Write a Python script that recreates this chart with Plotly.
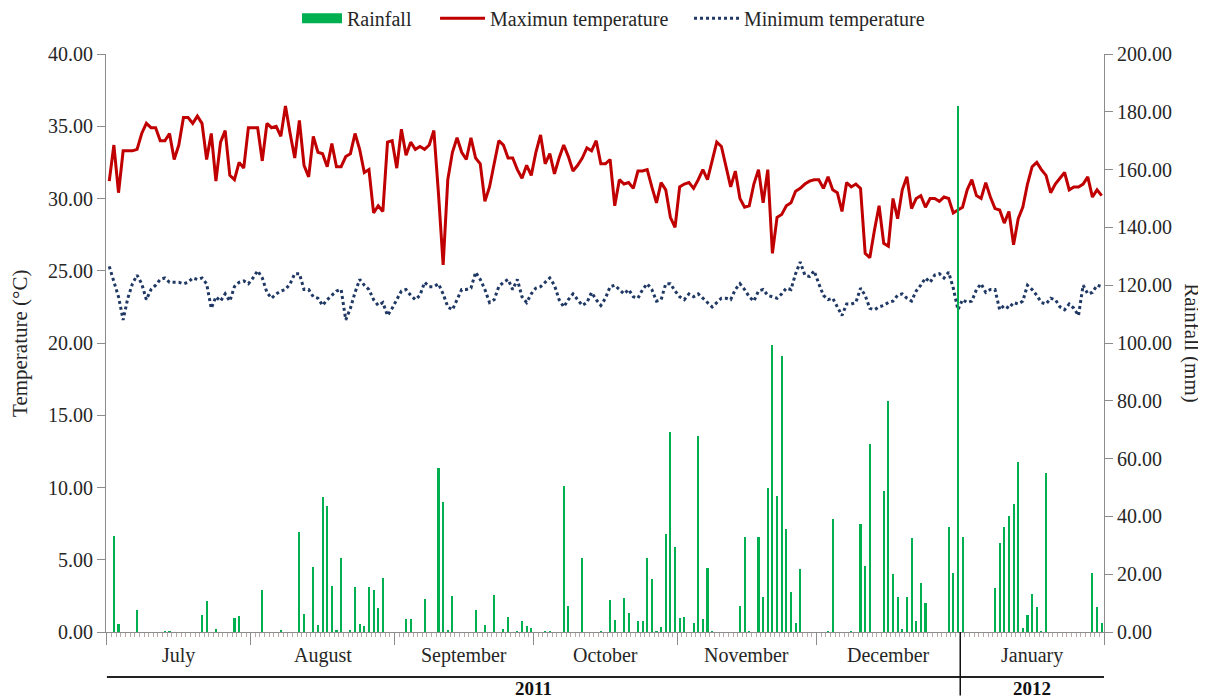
import plotly.graph_objects as go

# ---------------- data (daily, 1 July 2011 -> 31 January 2012) ----------------
month_names = ["July", "August", "September", "October", "November", "December", "January"]
month_days = [31, 31, 30, 31, 30, 31, 31]
year_labels = ["2011", "2012"]

max_temp = [
    31.2, 33.7, 30.4, 33.3, 33.3, 33.3, 33.4, 34.5, 35.2, 34.9,
    34.9, 34.0, 34.0, 34.5, 32.7, 33.7, 35.6, 35.6, 35.2, 35.7,
    35.2, 32.7, 34.5, 31.2, 33.9, 34.7, 31.6, 31.3, 32.5, 32.1,
    34.9, 34.9, 34.9, 32.6, 35.2, 34.9, 35.0, 34.3, 36.4, 34.5,
    32.8, 35.4, 32.3, 31.5, 34.3, 33.2, 33.1, 32.2, 33.8, 32.2,
    32.2, 32.9, 33.1, 34.5, 33.4, 31.8, 32.0, 29.0, 29.5, 29.1,
    33.9, 34.0, 32.1, 34.8,
    33.0, 33.9, 33.4, 33.6, 33.4, 33.7, 34.7, 30.3, 25.4, 31.3,
    33.2, 34.2, 33.2, 32.7, 34.2, 32.8, 32.4, 29.8, 30.8, 32.4,
    34.0, 33.7, 32.8, 32.8, 32.0, 31.4, 32.3, 31.6, 33.2, 34.4,
    32.4, 33.1, 31.7, 32.8, 33.7, 32.9, 31.9, 32.3, 32.8, 33.5,
    33.3, 34.0, 32.4, 32.4, 32.7, 29.5, 31.3, 31.0, 31.1, 30.7,
    31.9, 31.9, 32.0, 30.8, 29.7, 31.1, 30.6, 28.7, 28.0, 30.8,
    31.0, 31.1,
    30.7, 31.3, 32.0, 31.3, 32.7, 33.9, 33.6, 32.3, 30.8, 31.9,
    30.0, 29.4, 29.5, 31.0, 32.0, 29.7, 32.0, 26.2, 28.7, 28.9,
    29.5, 29.7, 30.5, 30.7, 31.0, 31.2, 31.3, 31.3, 30.7, 31.5,
    30.6, 30.4, 29.1, 31.1, 30.8, 31.0, 30.7, 26.2, 25.9, 27.8,
    29.5, 26.9, 26.7, 30.0, 28.6, 30.6, 31.5, 29.3, 30.0, 30.2,
    29.4, 30.0, 30.0, 29.8, 30.1, 30.0, 29.0, 29.2, 29.4, 30.6,
    31.3, 30.2,
    30.0, 31.1, 30.1, 29.3, 29.2, 28.3, 29.1, 26.8, 28.6, 29.4,
    31.0, 32.2, 32.5, 32.0, 31.6, 30.4, 31.0, 31.4, 31.8, 30.6,
    30.8, 30.8, 31.0, 31.5, 30.1, 30.6, 30.2,
]

min_temp = [
    25.3, 24.2, 23.2, 21.6, 23.1, 24.1, 24.7, 24.1, 23.0, 23.7,
    24.0, 24.4, 24.5, 24.2, 24.2, 24.2, 24.1, 24.2, 24.5, 24.4,
    24.5, 24.1, 22.4, 23.2, 22.9, 23.4, 22.9, 23.9, 24.2, 24.3,
    24.1, 24.5, 25.0, 24.5, 23.5, 23.1, 23.4, 23.6, 23.7, 24.1,
    24.8, 24.8, 23.7, 23.7, 23.2, 23.1, 22.6, 23.0, 23.3, 23.6,
    23.7, 21.6, 22.4, 23.5, 24.4, 24.0, 23.7, 23.0, 22.6, 22.8,
    21.9, 22.4, 23.0,
    23.6, 23.7, 23.3, 23.0, 23.3, 24.2, 23.9,
    23.9, 24.1, 23.4, 22.5, 22.3, 23.0, 23.7, 23.7, 23.8, 24.9,
    24.4, 23.7, 22.8, 23.0, 23.9, 24.2, 24.4, 23.7, 24.4, 23.2,
    22.8, 23.4, 23.8, 23.9, 24.2, 24.5, 24.0, 23.0, 22.5, 23.0,
    23.4, 23.0, 22.6, 22.8, 23.5, 23.0, 22.6, 23.1, 23.9, 24.0,
    23.7, 23.4, 23.7, 23.2, 23.1, 23.7, 24.1, 23.7, 22.9, 23.0,
    24.1, 24.1, 23.6, 23.2, 23.0, 23.4,
    23.2, 23.4, 23.1, 22.8,
    22.5, 22.8, 23.1, 23.1, 23.0, 23.7, 24.1, 23.7, 23.2, 22.9,
    23.6, 23.7, 23.3, 23.2, 23.1, 23.4, 23.8, 23.7, 24.8, 25.6,
    24.7, 24.6, 25.0, 24.1, 23.3, 23.0, 23.1, 22.5, 21.9, 22.7,
    22.7, 22.8, 23.8, 23.3, 22.4, 22.3, 22.5, 22.6, 22.8, 22.9,
    23.3, 23.4, 23.1, 22.9, 23.6, 24.0, 24.5, 24.2, 24.7, 24.8,
    24.5, 24.9, 23.8, 22.3, 23.0, 22.8, 22.9, 23.7,
    24.1, 23.5, 23.7, 23.7, 22.3, 22.6, 22.4, 22.8, 22.7, 22.9,
    24.0, 23.7, 23.3, 22.8, 22.7, 23.1, 23.0, 22.5, 22.3, 22.7,
    22.4, 21.9, 24.0, 23.4, 23.5, 24.0, 23.9,
]

# rainy days: day number counted from 1 July 2011 (0 = 1 July) and amount (mm)
rain_day = [1, 2, 6, 12, 13, 20, 21, 23, 27, 28, 33, 37, 41, 42, 44, 45, 46, 47, 48, 49,
            50, 52, 53, 54, 55, 56, 57, 58, 59, 64, 65, 68, 71, 72, 73, 74, 79, 81, 83, 85,
            86, 88, 89, 90, 91, 94, 95, 98, 99, 102, 106, 108, 109, 111, 112, 114, 115, 116,
            117, 118, 119, 120, 121, 122, 123, 124, 126, 127, 128, 129, 130, 136, 137, 138,
            140, 141, 142, 143, 144, 145, 146, 147, 148, 149, 155, 156, 160, 162, 163, 164,
            167, 168, 169, 170, 171, 172, 173, 174, 175, 176, 181, 182, 183, 184, 191, 192,
            193, 194, 195, 196, 197, 198, 199, 200, 201, 202, 212, 213, 214]
rain_mm = [33.2, 2.8, 7.6, 0.3, 0.3, 5.9, 10.8, 0.9, 4.7, 5.7, 14.5, 0.5, 34.5, 6.2, 22.6,
           2.4, 46.8, 43.7, 15.9, 0.5, 25.7, 0.7, 15.5, 2.8, 2.1, 15.5, 14.5, 8.2, 18.6, 4.4,
           4.6, 11.3, 56.6, 45.1, 0.7, 12.6, 7.6, 2.4, 12.8, 0.9, 5.3, 0.3, 3.8, 2.2, 1.3, 0.3,
           0.3, 50.5, 9.0, 25.5, 0.3, 11.1, 4.2, 11.9, 6.7, 3.9, 3.9, 25.5, 18.2, 0.3, 1.8,
           33.9, 69.3, 29.3, 4.7, 5.3, 3.0, 67.8, 4.4, 22.0, 0.3, 9.0, 32.8, 0.3, 32.8, 12.2,
           49.7, 99.3, 47.1, 95.5, 35.6, 13.9, 3.0, 21.9, 0.3, 39.2, 0.3, 37.4, 22.8, 64.9,
           48.8, 80.0, 20.1, 12.0, 0.9, 12.0, 32.4, 3.8, 17.1, 9.9, 36.4, 20.3, 182.0, 32.8,
           15.1, 30.9, 36.4, 40.1, 44.3, 58.9, 1.3, 5.9, 13.1, 8.5, 0.3, 55.1, 20.5, 8.5, 3.0]

# ---------------- derived ----------------
n_days = sum(month_days)
day_x = [d + 0.5 for d in range(n_days)]
rain_x = [d + 0.5 for d in rain_day]

bounds = [0]
for m in month_days:
    bounds.append(bounds[-1] + m)
centers = [(bounds[i] + bounds[i + 1]) / 2 for i in range(len(month_days))]
year_split = bounds[6]

FONT = "Liberation Serif"
GREEN = "#00B050"
RED = "#C00000"
NAVY = "#1F3864"
AXIS = "#8C8C8C"
TXT = "#262626"
FS = 20

fig = go.Figure()

fig.add_trace(go.Scatter(
    x=day_x, y=max_temp, mode="lines", name="Maximun temperature",
    line=dict(color=RED, width=3), yaxis="y", showlegend=False))
fig.add_trace(go.Scatter(
    x=day_x, y=min_temp, mode="lines", name="Minimum temperature",
    line=dict(color=NAVY, width=3, dash="dot"), yaxis="y", showlegend=False))
fig.add_trace(go.Bar(
    x=rain_x, y=rain_mm, name="Rainfall", width=0.45,
    marker=dict(color=GREEN, line=dict(width=0)), yaxis="y2", showlegend=False))

# legend entries (one legend box each, so they can sit where the reference has them)
fig.add_trace(go.Scatter(x=[None], y=[None], mode="lines", name="Rainfall",
                         line=dict(color=GREEN, width=10), legend="legend"))
fig.add_trace(go.Scatter(x=[None], y=[None], mode="lines", name="Maximun temperature",
                         line=dict(color=RED, width=3), legend="legend2"))
fig.add_trace(go.Scatter(x=[None], y=[None], mode="lines", name="Minimum temperature",
                         line=dict(color=NAVY, width=3, dash="dot"), legend="legend3"))

leg_common = dict(orientation="h", xanchor="left", y=1.062, yanchor="middle",
                  font=dict(family=FONT, size=FS, color=TXT),
                  bgcolor="rgba(0,0,0,0)")

fig.update_layout(
    width=1198, height=692,
    margin=dict(l=98, r=102, t=46, b=68, autoexpand=False),
    paper_bgcolor="white", plot_bgcolor="white",
    font=dict(family=FONT, size=FS, color=TXT),
    bargap=0,
    showlegend=True,
    legend=dict(x=0.1914, itemwidth=40, **leg_common),
    legend2=dict(x=0.3297, itemwidth=45, **leg_common),
    legend3=dict(x=0.5842, itemwidth=45, **leg_common),
    xaxis=dict(range=[-0.2, n_days], showgrid=False, zeroline=False,
               showline=True, linecolor=AXIS, linewidth=1,
               tickmode="array", tickvals=bounds, ticks="outside", ticklen=12,
               tickcolor=AXIS, tickwidth=1, showticklabels=False,
               minor=dict(tickmode="array", tickvals=list(range(n_days + 1)),
                          ticks="outside", ticklen=4, tickcolor="#B8A8A8", tickwidth=1,
                          showgrid=False)),
    yaxis=dict(range=[0, 40], tickvals=[0, 5, 10, 15, 20, 25, 30, 35, 40], tickformat=".2f",
               showgrid=False, zeroline=False, showline=True, linecolor=AXIS, linewidth=1,
               ticks="outside", ticklen=8, tickcolor=AXIS,
               tickfont=dict(family=FONT, size=FS, color=TXT)),
    yaxis2=dict(range=[0, 200], tickvals=list(range(0, 201, 20)), tickformat=".2f",
                overlaying="y", side="right", showgrid=False, zeroline=False,
                showline=True, linecolor=AXIS, linewidth=1,
                ticks="outside", ticklen=8, tickcolor=AXIS,
                tickfont=dict(family=FONT, size=FS, color=TXT)),
)

annotations = []
for name, c in zip(month_names, centers):
    annotations.append(dict(x=c, y=-0.040, xref="x", yref="paper", text=name,
                            showarrow=False, font=dict(family=FONT, size=FS, color=TXT),
                            xanchor="center", yanchor="middle"))
annotations.append(dict(x=year_split / 2, y=-0.098, xref="x", yref="paper",
                        text="<b>" + year_labels[0] + "</b>", showarrow=False,
                        font=dict(family=FONT, size=19, color="#111"),
                        xanchor="center", yanchor="middle"))
annotations.append(dict(x=(year_split + n_days) / 2, y=-0.098, xref="x", yref="paper",
                        text="<b>" + year_labels[1] + "</b>", showarrow=False,
                        font=dict(family=FONT, size=19, color="#111"),
                        xanchor="center", yanchor="middle"))
annotations.append(dict(x=-0.0862, y=0.5, xref="paper", yref="paper",
                        text="Temperature (°C)", textangle=-90, showarrow=False,
                        font=dict(family=FONT, size=21, color=TXT),
                        xanchor="center", yanchor="middle"))
annotations.append(dict(x=1.088, y=0.5, xref="paper", yref="paper",
                        text="Rainfall (mm)", textangle=90, showarrow=False,
                        font=dict(family=FONT, size=21, color=TXT),
                        xanchor="center", yanchor="middle"))
fig.update_layout(annotations=annotations)

fig.update_layout(shapes=[
    dict(type="line", xref="x", yref="paper", x0=0, x1=n_days, y0=-0.078, y1=-0.078,
         line=dict(color="#222", width=2)),
    dict(type="line", xref="x", yref="paper", x0=year_split, x1=year_split, y0=0, y1=-0.11,
         line=dict(color="#111", width=1.5)),
])

fig.write_html("out.html")
